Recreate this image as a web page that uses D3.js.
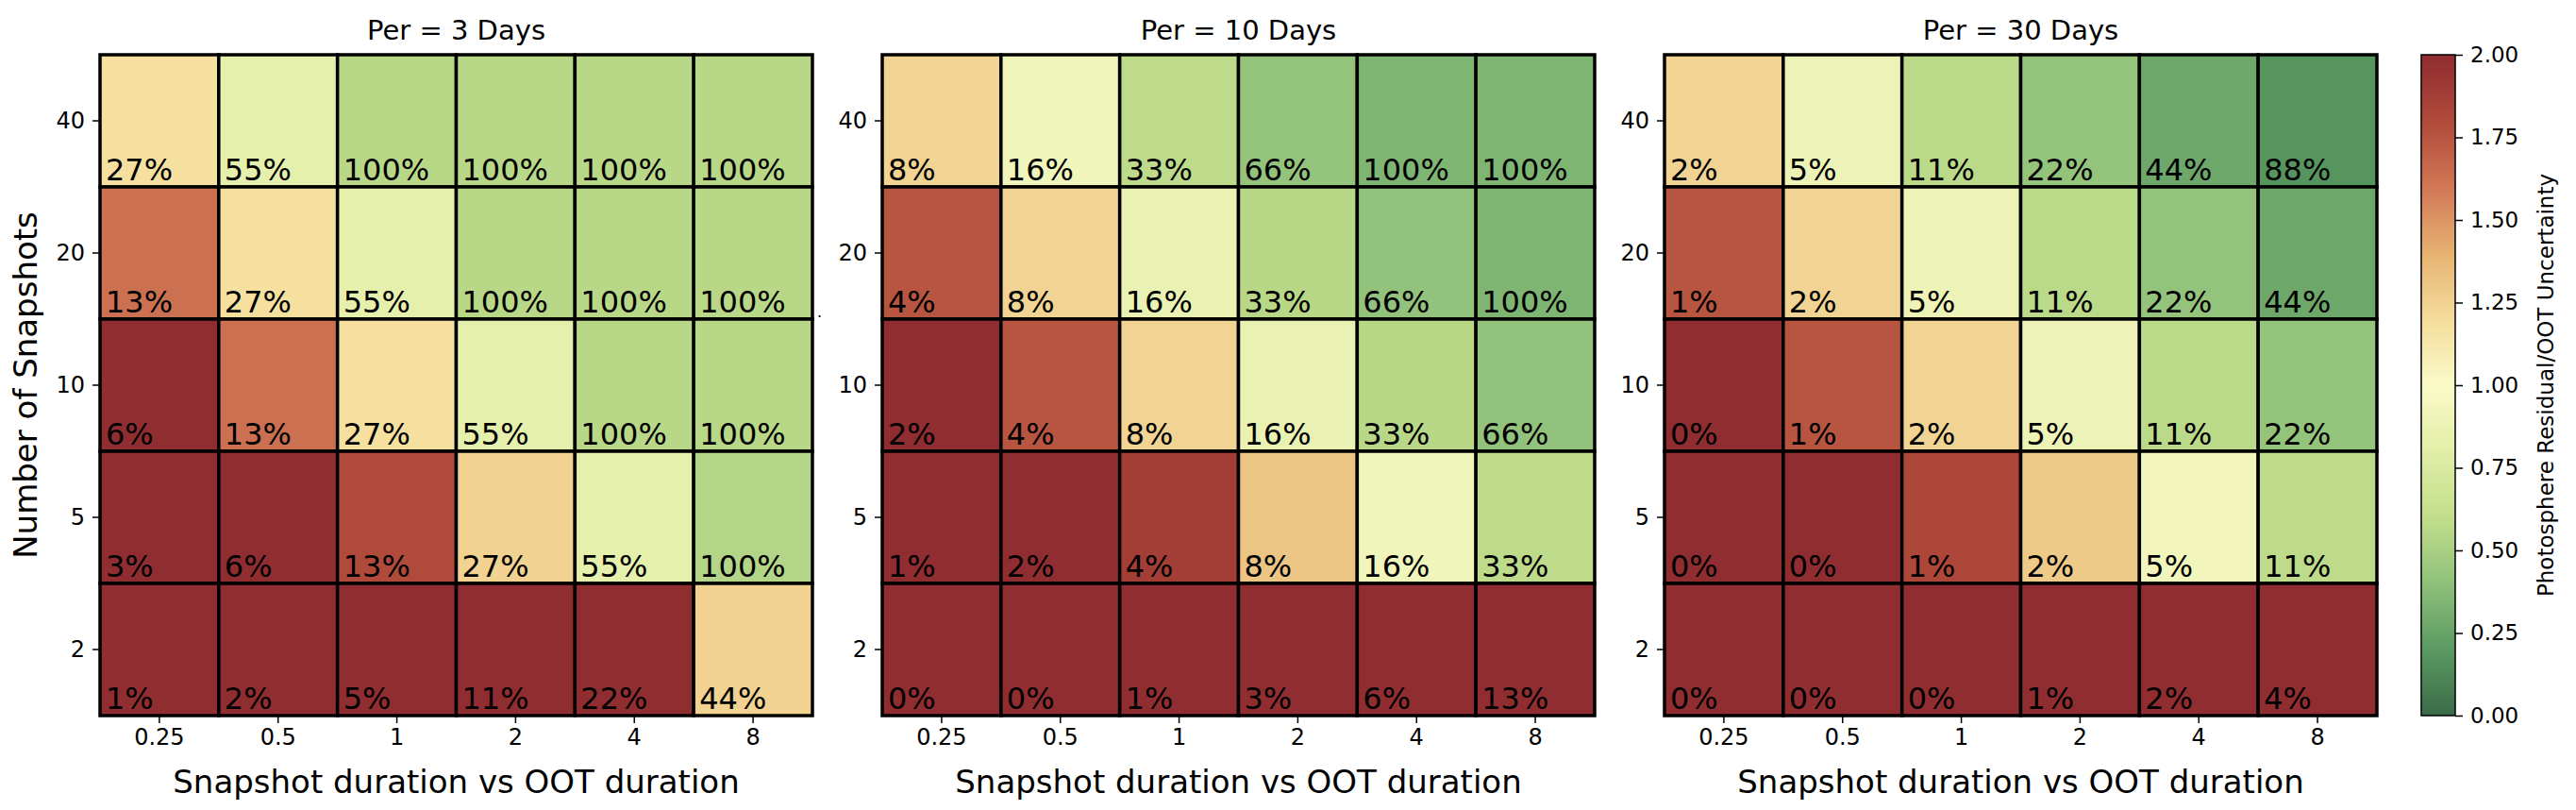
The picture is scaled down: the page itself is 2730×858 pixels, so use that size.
<!DOCTYPE html>
<html>
<head>
<meta charset="utf-8">
<script src="https://cdn.jsdelivr.net/npm/d3@7"></script>
<style>
  body { margin: 0; background: #fff; }
  text { font-family: "DejaVu Sans", sans-serif; fill: #000; }
</style>
</head>
<body>
<div id="chart"></div>
<script>
// tick labels / categories
var durations = ["0.25", "0.5", "1", "2", "4", "8"];
var snapshots = ["40", "20", "10", "5", "2"];
var periods = [3, 10, 30];
var cbarTicks = [0, 0.25, 0.5, 0.75, 1, 1.25, 1.5, 1.75, 2];

// Photosphere residual / OOT uncertainty, rows top (40) to bottom (2)
var ratio3 = [
  [1.18, 0.83, 0.56, 0.56, 0.56, 0.56],
  [1.63, 1.18, 0.83, 0.56, 0.56, 0.56],
  [2.45, 1.63, 1.18, 0.83, 0.56, 0.56],
  [3.10, 2.40, 1.80, 1.25, 0.83, 0.54],
  [4.80, 3.60, 2.90, 2.50, 2.20, 1.25]
];
var ratio10 = [
  [1.24, 0.92, 0.58, 0.42, 0.34, 0.34],
  [1.75, 1.24, 0.87, 0.56, 0.41, 0.34],
  [2.50, 1.75, 1.24, 0.87, 0.56, 0.41],
  [3.20, 2.50, 1.88, 1.31, 0.92, 0.58],
  [5.00, 4.00, 3.20, 2.70, 2.40, 2.20]
];
var ratio30 = [
  [1.24, 0.89, 0.57, 0.42, 0.27, 0.18],
  [1.75, 1.24, 0.89, 0.57, 0.42, 0.27],
  [2.50, 1.75, 1.24, 0.89, 0.57, 0.42],
  [3.20, 2.50, 1.82, 1.29, 0.93, 0.58],
  [5.00, 4.00, 3.20, 2.70, 2.40, 2.20]
];

// percentage annotations
var pct3 = [
  [27, 55, 100, 100, 100, 100],
  [13, 27, 55, 100, 100, 100],
  [6, 13, 27, 55, 100, 100],
  [3, 6, 13, 27, 55, 100],
  [1, 2, 5, 11, 22, 44]
];
var pct10 = [
  [8, 16, 33, 66, 100, 100],
  [4, 8, 16, 33, 66, 100],
  [2, 4, 8, 16, 33, 66],
  [1, 2, 4, 8, 16, 33],
  [0, 0, 1, 3, 6, 13]
];
var pct30 = [
  [2, 5, 11, 22, 44, 88],
  [1, 2, 5, 11, 22, 44],
  [0, 1, 2, 5, 11, 22],
  [0, 0, 1, 2, 5, 11],
  [0, 0, 0, 1, 2, 4]
];

var W = 2730, H = 858;
var plotTop = 58, plotH = 700, plotW = 755;
var lefts = [106, 935, 1764];

// muted RdYlGn_r
var color = d3.scaleLinear()
  .domain([0, 0.2, 0.4, 0.6, 0.8, 1.0, 1.2, 1.4, 1.6, 1.8, 2.0])
  .range(["#3b6b48", "#5a9a62", "#8fc07a", "#c2de8c", "#e2eea8", "#fafac8",
          "#f4dd9c", "#e6b271", "#d17756", "#b04a3a", "#8f2d31"])
  .interpolate(d3.interpolateRgb)
  .clamp(true);

var svg = d3.select("#chart").append("svg")
  .attr("width", W)
  .attr("height", H);

svg.append("rect").attr("width", W).attr("height", H).attr("fill", "#fff");

var x = d3.scaleBand().domain(durations).range([0, plotW]);
var y = d3.scaleBand().domain(snapshots).range([0, plotH]);

/**
 * Draws one heatmap panel.
 */
function panel(i, ratio, pct) {
  var g = svg.append("g")
    .attr("transform", "translate(" + lefts[i] + "," + plotTop + ")");

  var cells = [];
  snapshots.forEach(function(s, r) {
    durations.forEach(function(d, c) {
      cells.push({ s: s, d: d, v: ratio[r][c], p: pct[r][c] });
    });
  });

  g.selectAll(".cell")
    .data(cells)
    .enter()
    .append("rect")
    .attr("class", "cell")
    .attr("x", function(d) { return x(d.d); })
    .attr("y", function(d) { return y(d.s); })
    .attr("width", x.bandwidth())
    .attr("height", y.bandwidth())
    .attr("fill", function(d) { return color(d.v); })
    .attr("stroke", "#000")
    .attr("stroke-width", 3.5);

  g.selectAll(".lbl")
    .data(cells)
    .enter()
    .append("text")
    .attr("class", "lbl")
    .attr("x", function(d) { return x(d.d) + 6; })
    .attr("y", function(d) { return y(d.s) + y.bandwidth() - 7; })
    .attr("font-size", "32px")
    .text(function(d) { return d.p + "%"; });

  var xa = g.append("g")
    .attr("transform", "translate(0," + plotH + ")")
    .call(d3.axisBottom(x).tickSizeOuter(0).tickSize(8).tickPadding(6));
  var ya = g.append("g")
    .call(d3.axisLeft(y).tickSizeOuter(0).tickSize(8).tickPadding(8));
  [xa, ya].forEach(function(a) {
    a.select(".domain").remove();
    a.selectAll("line").attr("stroke", "#000").attr("stroke-width", 1.5);
    a.selectAll("text").attr("font-size", "24px").attr("fill", "#000")
      .style("font-family", "DejaVu Sans");
  });

  g.append("text")
    .attr("x", plotW / 2)
    .attr("y", 42 - plotTop)
    .attr("text-anchor", "middle")
    .attr("font-size", "29px")
    .text("Per = " + periods[i] + " Days");

  g.append("text")
    .attr("x", plotW / 2)
    .attr("y", 840 - plotTop)
    .attr("text-anchor", "middle")
    .attr("font-size", "34px")
    .text("Snapshot duration vs OOT duration");
}

panel(0, ratio3, pct3);
panel(1, ratio10, pct10);
panel(2, ratio30, pct30);

svg.append("text")
  .attr("transform", "translate(39," + (plotTop + plotH / 2) + ") rotate(-90)")
  .attr("text-anchor", "middle")
  .attr("font-size", "34px")
  .text("Number of Snapshots");

// stray dot in the original figure
svg.append("text")
  .attr("x", 866).attr("y", 336)
  .attr("font-size", "16px")
  .text(".");

// colorbar
var cbX = 2566, cbW = 36;
var cy = d3.scaleLinear().domain([0, 2]).range([plotTop + plotH, plotTop]);

var grad = svg.append("defs").append("linearGradient")
  .attr("id", "cbgrad")
  .attr("x1", 0).attr("y1", 1).attr("x2", 0).attr("y2", 0);
d3.range(0, 2.0001, 0.05).forEach(function(v) {
  grad.append("stop")
    .attr("offset", (v / 2 * 100) + "%")
    .attr("stop-color", color(v));
});

svg.append("rect")
  .attr("x", cbX).attr("y", plotTop)
  .attr("width", cbW).attr("height", plotH)
  .attr("fill", "url(#cbgrad)")
  .attr("stroke", "#000")
  .attr("stroke-width", 1.5);

var cba = svg.append("g")
  .attr("transform", "translate(" + (cbX + cbW) + ",0)")
  .call(d3.axisRight(cy).tickValues(cbarTicks).tickFormat(d3.format(".2f"))
    .tickSize(8).tickPadding(8).tickSizeOuter(0));
cba.select(".domain").remove();
cba.selectAll("line").attr("stroke", "#000").attr("stroke-width", 1.5);
cba.selectAll("text").attr("font-size", "23px").attr("fill", "#000")
  .style("font-family", "DejaVu Sans");

svg.append("text")
  .attr("transform", "translate(2706," + (plotTop + plotH / 2) + ") rotate(-90)")
  .attr("text-anchor", "middle")
  .attr("font-size", "23px")
  .text("Photosphere Residual/OOT Uncertainty");
</script>
</body>
</html>
